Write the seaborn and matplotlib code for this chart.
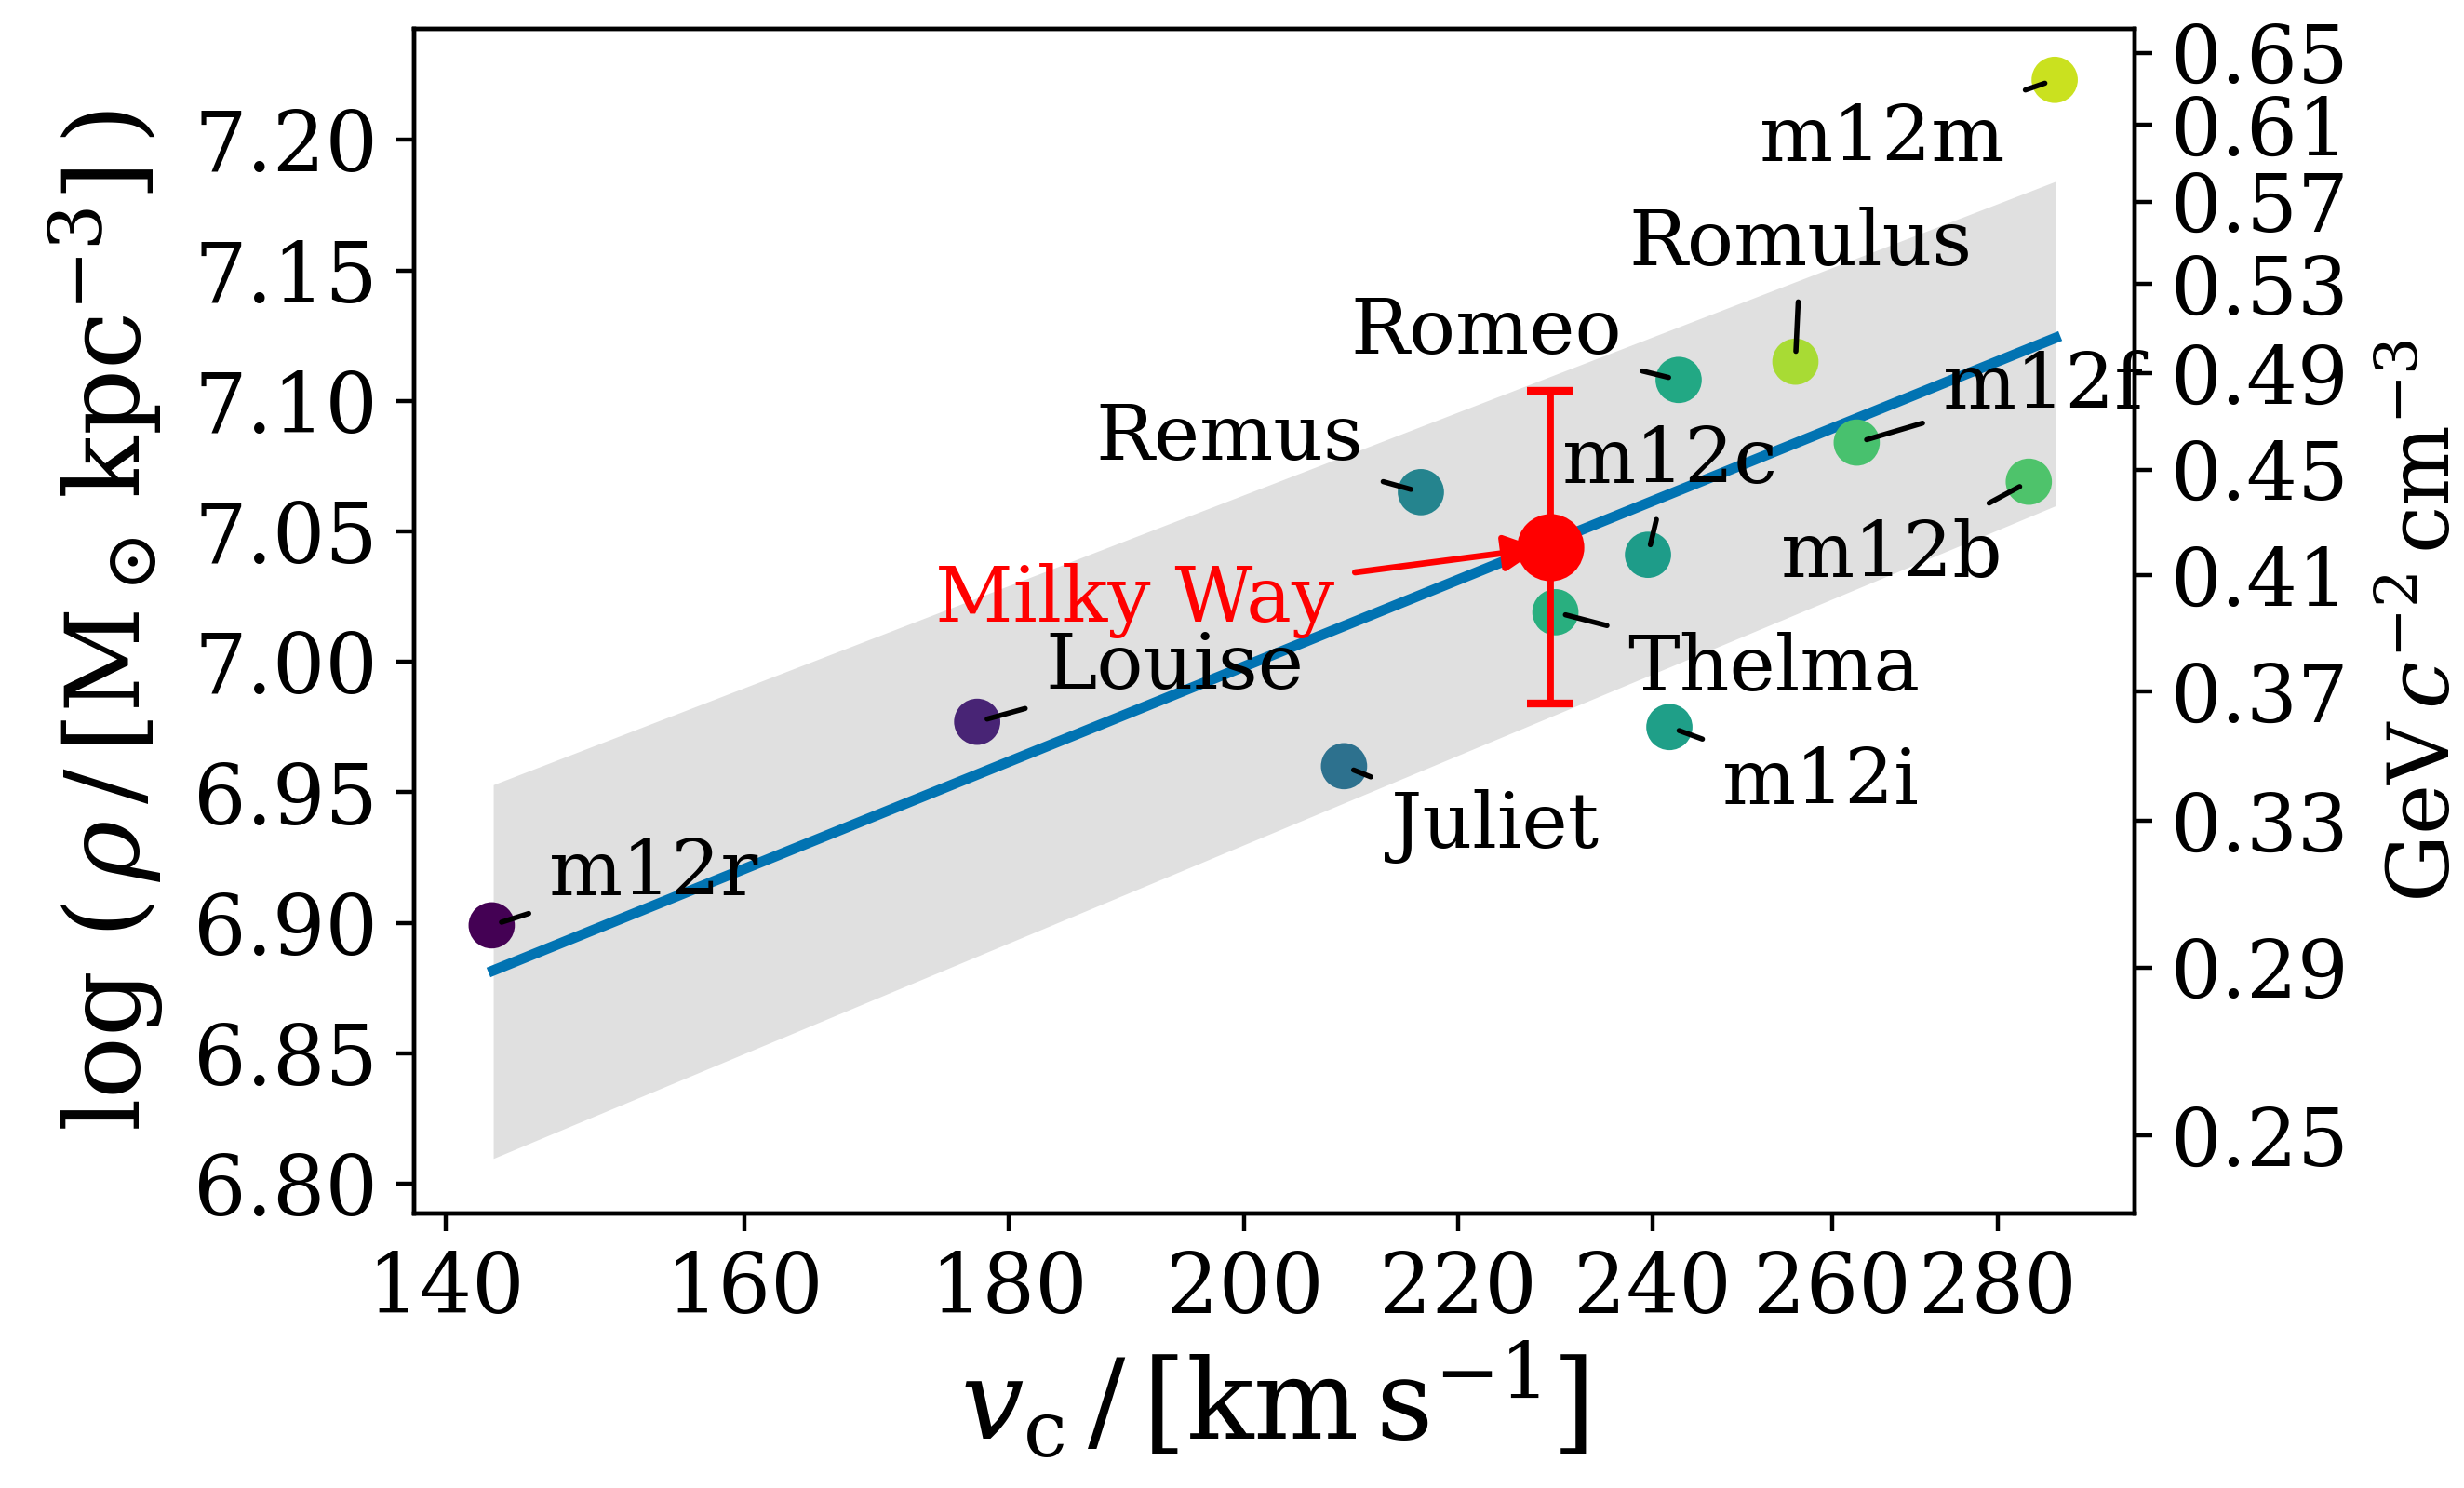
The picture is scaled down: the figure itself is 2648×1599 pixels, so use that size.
import numpy as np
import pandas as pd
import matplotlib
matplotlib.use("Agg")
import matplotlib.pyplot as plt
from matplotlib.ticker import NullLocator, FixedLocator, FixedFormatter
import seaborn as sns

# ---------------- data ----------------
names = ["m12r", "Louise", "Juliet", "Remus", "Thelma", "m12c", "m12i",
         "Romeo", "Romulus", "m12f", "m12b", "m12m"]
vc = [142.9, 177.5, 209.1, 216.4, 229.8, 239.5, 241.8,
      242.8, 255.8, 262.9, 283.9, 287.2]
log_rho = [6.899, 6.977, 6.960, 7.065, 7.019, 7.041, 6.975,
           7.108, 7.115, 7.084, 7.069, 7.223]
colour_value = [0.00, 0.10, 0.37, 0.45, 0.63, 0.55, 0.56,
                0.60, 0.87, 0.71, 0.72, 0.92]

mw_vc = 229.3
mw_log_rho = 7.044
mw_err = 0.06

fit_vc = [143.0, 287.3]
fit_line = [6.8817, 7.1241]
band_low = [6.8097, 7.0598]
band_high = [6.9529, 7.1841]

x_ticks = [140, 160, 180, 200, 220, 240, 260, 280]
y_ticks = [6.80, 6.85, 6.90, 6.95, 7.00, 7.05, 7.10, 7.15, 7.20]
rho_ticks_gev = [0.25, 0.29, 0.33, 0.37, 0.41, 0.45, 0.49, 0.53, 0.57, 0.61, 0.65]
GEV_PER_CM3_IN_MSUN_PER_KPC3 = 2.633e7

# label placement (layout, data coords: left edge, baseline)
label_pos = {
    "m12r": (146.6, 6.9107), "Louise": (183.0, 6.9898), "Remus": (187.1, 7.0773),
    "Juliet": (213.5, 6.9287), "Romeo": (209.7, 7.1180), "Romulus": (237.5, 7.1519),
    "m12c": (230.5, 7.0684), "m12f": (273.2, 7.0969), "m12b": (254.1, 7.0325),
    "Thelma": (237.3, 6.9891), "m12i": (247.6, 6.9456), "m12m": (251.7, 7.1920),
}
mw_label_pos = (174.2, 7.0153)

# ---------------- style ----------------
plt.rcParams["font.family"] = ["DejaVu Serif"]
plt.rcParams["mathtext.fontset"] = "dejavuserif"

df = pd.DataFrame({"name": names, "vc": vc, "log_rho": log_rho, "c": colour_value})

fig = plt.figure(figsize=(6.62, 3.9975), dpi=400)
ax = fig.add_axes([0.1681, 0.1845, 0.8662 - 0.1681, 0.9809 - 0.1845])

ax.fill_between(fit_vc, band_low, band_high, color="#e0e0e0", lw=0, zorder=0)
sns.lineplot(x=fit_vc, y=fit_line, color="#0173b2", lw=2.0, ax=ax, zorder=2)
sns.scatterplot(data=df, x="vc", y="log_rho", hue="c", palette="viridis",
                hue_norm=(0, 1), s=80, linewidth=0, legend=False, ax=ax, zorder=3)

ax.errorbar(mw_vc, mw_log_rho, yerr=mw_err, fmt="o", color="red", ms=12,
            elinewidth=1.4, capsize=4.5, capthick=1.5, zorder=5)

for n, x, y in zip(names, vc, log_rho):
    lx, ly = label_pos[n]
    ax.annotate(n, xy=(x, y), xytext=(lx, ly), textcoords="data",
                ha="left", va="baseline", fontsize=15, zorder=4,
                arrowprops=dict(arrowstyle="-", color="k", lw=1))

ax.annotate("Milky Way", xy=(mw_vc, mw_log_rho), xytext=mw_label_pos,
            textcoords="data", ha="left", va="baseline", fontsize=14.7,
            color="red", zorder=6,
            arrowprops=dict(arrowstyle="-|>", color="red", lw=1.2))

ax.set_xscale("log")
ax.set_xlim(138.04, 297.6)
ax.set_ylim(6.7886, 7.2427)
ax.xaxis.set_major_locator(FixedLocator(x_ticks))
ax.xaxis.set_major_formatter(FixedFormatter([str(t) for t in x_ticks]))
ax.xaxis.set_minor_locator(NullLocator())
ax.set_yticks(y_ticks)
ax.set_yticklabels([f"{t:.2f}" for t in y_ticks])
ax.tick_params(labelsize=16)

ax.set_xlabel(r"$v_\mathrm{c}\,/\,[\mathrm{km\,s}^{-1}]$", fontsize=21.5, labelpad=2)
ax.set_ylabel(r"$\log\,(\,\rho\,/\,[\mathrm{M}_\odot\,\mathrm{kpc}^{-3}]\,)$", fontsize=20, labelpad=5)

ax2 = ax.twinx()
ax2.set_ylim(ax.get_ylim())
ax2.set_yticks(np.log10(np.array(rho_ticks_gev) * GEV_PER_CM3_IN_MSUN_PER_KPC3))
ax2.set_yticklabels([f"{v:.2f}" for v in rho_ticks_gev])
ax2.tick_params(labelsize=15.5)
ax2.set_ylabel(r"$\mathrm{GeV}\,c^{-2}\,\mathrm{cm}^{-3}$", fontsize=16.5, labelpad=7)

fig.savefig("out.png", dpi=400)
